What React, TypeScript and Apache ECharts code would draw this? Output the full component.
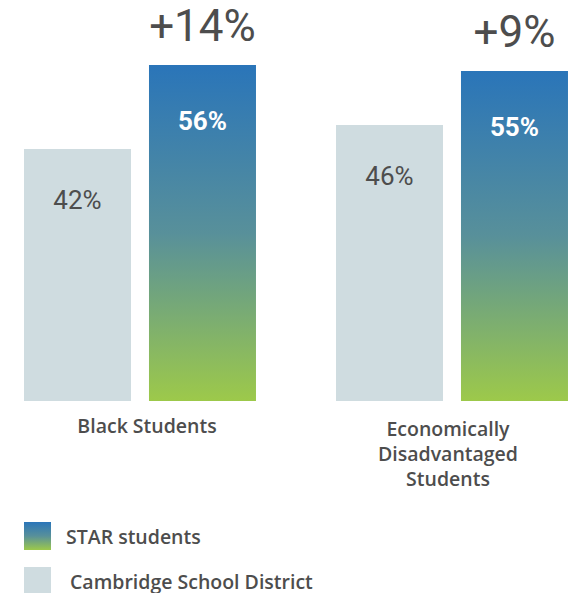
import React, { useEffect, useRef } from "react";
import * as echarts from "echarts";

const categories = ["Black Students", "Economically\nDisadvantaged\nStudents"];
const districtValues = [42, 46];
const starValues = [56, 55];
const gainLabels = ["+14%", "+9%"];
const seriesNames = ["STAR students", "Cambridge School District"];

const TEXT = "#4d4d4d";
const NUM_FONT = "Roboto, 'Open Sans', sans-serif";
const LABEL_FONT = "'Open Sans', 'Noto Sans', sans-serif";
const OFFSET = 16; // chart canvas starts 16px left of the page

export default function App() {
  const ref = useRef<HTMLDivElement>(null);
  useEffect(() => {
    if (!ref.current) return;
    const chart = echarts.init(ref.current, undefined, { renderer: "svg" });
    const starGradient = new echarts.graphic.LinearGradient(0, 0, 0, 1, [
      { offset: 0, color: "#2a75b9" },
      { offset: 0.5, color: "#58909a" },
      { offset: 1, color: "#9dc94a" },
    ]);
    const legendBase = {
      orient: "vertical",
      left: 24 + OFFSET,
      padding: 0,
      itemWidth: 27,
      itemHeight: 28,
      icon: "rect",
      selectedMode: false,
      textStyle: { color: TEXT, fontSize: 19.5, fontWeight: 600, fontFamily: LABEL_FONT },
    };
    chart.setOption({
      animation: false,
      textStyle: { fontFamily: NUM_FONT },
      grid: { left: 0, right: 0, top: 41, bottom: 192 },
      xAxis: {
        type: "category",
        data: categories.map((c, i) => ({
          value: c,
          textStyle: { padding: i === 0 ? [0, 0, 0, 14] : [3, 8, 0, 0] },
        })),
        axisLine: { show: false },
        axisTick: { show: false },
        axisLabel: {
          color: TEXT,
          fontSize: 19.5,
          fontWeight: 600,
          lineHeight: 25,
          margin: 12,
          fontFamily: LABEL_FONT,
        },
      },
      yAxis: { type: "value", min: 0, max: 60, show: false, splitLine: { show: false } },
      legend: [
        {
          ...legendBase,
          top: 522,
          data: [{ name: seriesNames[0], textStyle: { padding: [0, 0, 0, 10] } }],
        },
        {
          ...legendBase,
          top: 567,
          data: [{ name: seriesNames[1], textStyle: { padding: [0, 0, 0, 14] } }],
        },
      ],
      series: [
        {
          name: seriesNames[1],
          type: "bar",
          stack: "district",
          data: districtValues,
          barWidth: 107,
          barGap: "16.8%",
          itemStyle: { color: "#cfdce0" },
          label: {
            show: true,
            position: "insideTop",
            distance: 38,
            formatter: "{c}%",
            color: TEXT,
            fontSize: 26,
            fontFamily: NUM_FONT,
          },
        },
        {
          name: seriesNames[0],
          type: "bar",
          stack: "star",
          data: starValues,
          barWidth: 107,
          barGap: "16.8%",
          itemStyle: { color: starGradient },
          label: {
            show: true,
            position: "insideTop",
            distance: 43,
            formatter: "{c}%",
            color: "#ffffff",
            fontWeight: "bold",
            fontSize: 26,
            fontFamily: NUM_FONT,
          },
        },
        {
          name: "gain",
          type: "bar",
          stack: "star",
          data: gainLabels.map(() => 0),
          barWidth: 107,
          barGap: "16.8%",
          itemStyle: { color: "rgba(0,0,0,0)" },
          label: {
            show: true,
            position: "top",
            distance: 17,
            formatter: (p: any) => gainLabels[p.dataIndex],
            color: TEXT,
            fontSize: 44,
            fontFamily: NUM_FONT,
          },
        },
      ],
    });
    return () => chart.dispose();
  }, []);
  return (
    <div
      ref={ref}
      style={{
        position: "fixed",
        left: -OFFSET,
        top: 0,
        width: 624,
        height: 593,
        background: "#fff",
      }}
    />
  );
}
